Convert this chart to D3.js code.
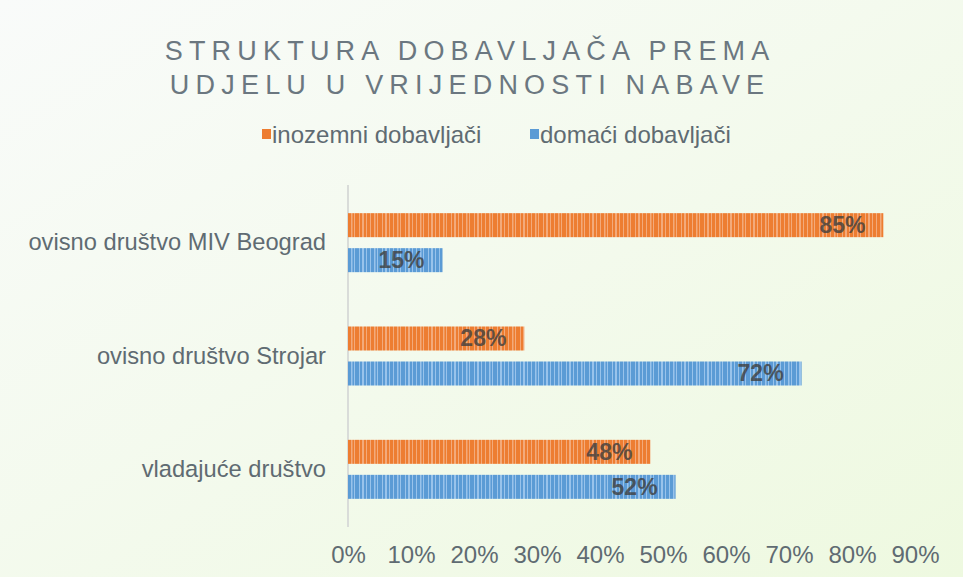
<!DOCTYPE html>
<html><head><meta charset="utf-8">
<script src="https://cdn.jsdelivr.net/npm/d3@7"></script>
<style>body{margin:0;padding:0;overflow:hidden}svg{display:block}</style>
</head><body>
<svg id="c" width="963" height="577"></svg>
<script>
const categories = ["ovisno društvo MIV Beograd", "ovisno društvo Strojar", "vladajuće društvo"];
const seriesNames = ["inozemni dobavljači", "domaći dobavljači"];
const inozemni = [85, 28, 48];
const domaci = [15, 72, 52];
const xTicks = [0,10,20,30,40,50,60,70,80,90];
const titleLines = ["STRUKTURA DOBAVLJAČA PREMA", "UDJELU U VRIJEDNOSTI NABAVE"];

const FONT = "Liberation Sans, Arial, sans-serif";
const svg = d3.select("#c");
const W = 963, H = 577;
const defs = svg.append("defs");
const bg = defs.append("linearGradient").attr("id","bg").attr("x1","0").attr("y1","0").attr("x2","1").attr("y2","1");
bg.append("stop").attr("offset","0").attr("stop-color","#f9fbfa");
bg.append("stop").attr("offset","1").attr("stop-color","#eef9e0");
svg.append("rect").attr("width",W).attr("height",H).attr("fill","url(#bg)");

const colors = ["#ed7d31","#5b9bd5"];
const light = ["#f5b58c","#a9cdf0"];
colors.forEach((c,i)=>{
  const p = defs.append("pattern").attr("id","pat"+i).attr("patternUnits","userSpaceOnUse").attr("width",23).attr("height",40);
  p.append("rect").attr("width",23).attr("height",40).attr("fill",c);
  [[2,1],[6,1.5],[9,1],[14,1],[17,2],[21,1]].forEach(([x,w])=>{
    p.append("rect").attr("x",x).attr("y",0).attr("width",w).attr("height",40).attr("fill",light[i]).attr("opacity",0.8);
  });
});

const x = d3.scaleLinear().domain([0,90]).range([348,915]);
const y0 = d3.scaleBand().domain(categories).range([186,526]).paddingInner(0).paddingOuter(0);
const y1 = d3.scaleBand().domain(seriesNames).range([0, y0.bandwidth()]).paddingInner(0.314).paddingOuter(0.776);

// title
const ls = 6.2;
titleLines.forEach((t,i)=>{
  svg.append("text").attr("x",467+ls/2).attr("y",60+i*34).attr("text-anchor","middle")
    .attr("font-family",FONT).attr("font-size",27)
    .attr("letter-spacing",ls+"px").attr("fill","#6b7780").text(t);
});

// legend
const legX = [262, 530];
seriesNames.forEach((s,i)=>{
  svg.append("rect").attr("x",legX[i]).attr("y",129).attr("width",9).attr("height",10).attr("fill",colors[i]);
  svg.append("text").attr("x",legX[i]+10).attr("y",143).attr("font-family",FONT)
    .attr("font-size",24).attr("fill","#5f6b72").text(s);
});

// axis line
svg.append("line").attr("x1",348).attr("x2",348).attr("y1",185).attr("y2",527).attr("stroke","#d9dcd9").attr("stroke-width",2);

// x axis tick labels
const xa = svg.append("g").attr("transform","translate(0,527)").call(d3.axisBottom(x).tickValues(xTicks).tickFormat(d=>d+"%").tickSize(0).tickPadding(19));
xa.select(".domain").remove();
xa.selectAll("text").attr("font-family",FONT).attr("font-size",24).attr("fill","#5f6b72");

// y labels
const ya = svg.append("g").attr("transform","translate(348,0)").call(d3.axisLeft(y0).tickSize(0).tickPadding(22));
ya.select(".domain").remove();
ya.selectAll("text").attr("font-family",FONT).attr("font-size",23.7).attr("fill","#5f6b72");

const data = categories.map((c,i)=>({cat:c, vals:[inozemni[i], domaci[i]]}));
const groups = svg.selectAll("g.grp").data(data).join("g").attr("class","grp").attr("transform",d=>`translate(0,${y0(d.cat)})`);
groups.each(function(d){
  const g = d3.select(this);
  d.vals.forEach((v,i)=>{
    const yy = y1(seriesNames[i]);
    g.append("rect").attr("x",x(0)).attr("y",yy).attr("width",x(v)-x(0)).attr("height",y1.bandwidth()).attr("fill","url(#pat"+i+")");
    g.append("text").attr("x",x(v)-18).attr("y",yy+y1.bandwidth()/2+8).attr("text-anchor","end")
      .attr("font-family",FONT).attr("font-size",23).attr("font-weight","bold")
      .attr("fill","#404040").attr("opacity",0.8).text(v+"%");
  });
});
</script>
</body></html>
